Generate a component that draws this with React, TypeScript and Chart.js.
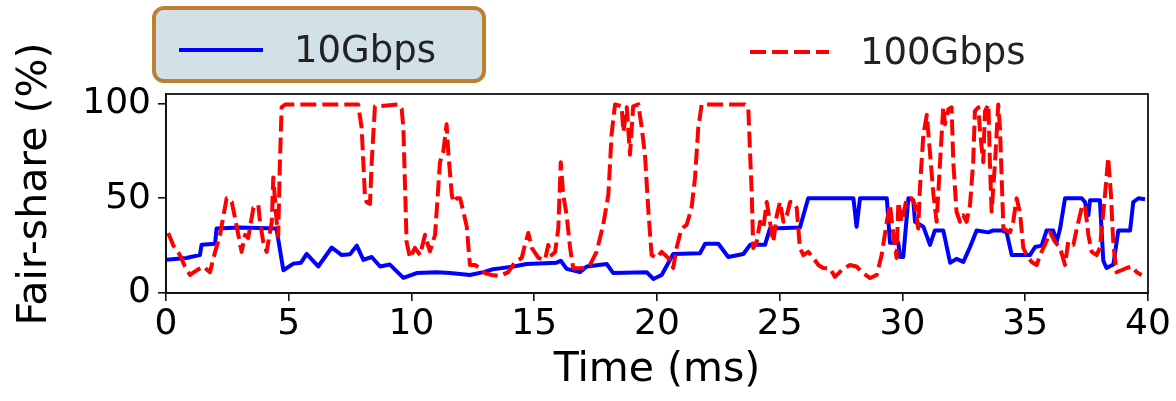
import React, { useEffect, useRef } from "react";
import { Chart, registerables } from "chart.js";

Chart.register(...registerables);

const xTicks = [0, 5, 10, 15, 20, 25, 30, 35, 40];
const yTicks = [0, 50, 100];
const seriesLabels = ["10Gbps", "100Gbps"];
const xTitle = "Time (ms)";
const yTitle = "Fair-share (%)";

const blueTime = [
  0, 0.84, 1.0, 1.38, 1.45, 2.0, 2.06, 3.0, 4.5, 4.78, 5.19, 5.5, 5.73, 6.2, 6.75, 7.16, 7.5, 7.77, 8.04, 8.38,
  8.72, 9.12, 9.67, 10.21, 11.03, 11.57, 12.38, 12.93, 13.3, 13.6, 14.15, 14.69, 15.91, 16.08, 16.32, 16.86, 17.14,
  17.95, 18.22, 19.58, 19.85, 20.19, 20.66, 21.75, 21.96, 22.5, 22.9, 23.52, 23.79, 24.4, 24.6, 25.82, 26.16, 28.0,
  28.13, 28.27, 29.36, 29.49, 29.83, 29.9, 30.03, 30.24, 30.44, 30.51, 30.85, 31.12, 31.32, 31.66, 31.94, 32.2,
  32.48, 32.75, 33.02, 33.5, 33.7, 34.04, 34.24, 34.45, 35.19, 35.4, 35.67, 35.87, 36.14, 36.28, 36.42, 36.62, 37.3,
  37.43, 37.57, 37.64, 38.04, 38.18, 38.31, 38.59, 38.79, 39.27, 39.4, 39.61, 39.88,
];
const blueShare = [
  17.5, 18.5, 19, 20, 25.5, 26, 34, 34.5, 34, 12, 15.5, 16, 20.6, 14, 24, 20, 20.5, 25, 17.5, 19,
  14, 15, 8, 10.5, 11, 10.5, 9.5, 11, 12.5, 13, 14, 15.3, 16, 17, 12.7, 11, 14,
  15.3, 10.5, 11, 7.4, 9.5, 20.6, 21, 26, 26, 19, 20.6, 25.4, 25.4, 34, 34.5, 50, 50,
  35, 50, 50, 26.5, 26.5, 19, 19, 50, 49, 37.6, 35, 25.4, 33, 33, 16, 18,
  16.4, 24.3, 33, 32, 33, 33, 32, 20, 20, 24.3, 25, 33, 33, 27, 34, 50, 50,
  48, 41, 49, 49, 17, 13.2, 15, 33, 33, 48, 50, 49.5,
];

const redTime = [
  0.09, 0.3, 0.57, 0.77, 0.98, 1.25, 1.52, 1.79, 2.0, 2.2, 2.47, 2.68, 2.81, 3.08, 3.22, 3.35, 3.56, 3.76, 3.83,
  3.96, 4.1, 4.31, 4.37, 4.51, 4.57, 4.64, 4.71, 4.85, 7.83, 7.97, 8.1, 8.17, 8.31, 8.38, 8.51, 9.46, 9.6, 9.67,
  9.8, 9.94, 10.14, 10.35, 10.55, 10.75, 10.96, 11.16, 11.3, 11.43, 11.5, 11.64, 11.7, 11.84, 11.98, 12.11, 12.25,
  12.38, 12.59, 12.79, 12.99, 13.27, 13.6, 13.94, 14.22, 14.49, 14.62, 14.76, 14.9, 15.17, 15.44, 15.57, 15.71,
  15.85, 15.98, 16.08, 16.18, 16.32, 16.46, 16.59, 16.93, 17.27, 17.54, 17.81, 18.02, 18.15, 18.29, 18.56, 18.63,
  18.77, 18.9, 19.03, 19.24, 19.38, 19.51, 19.65, 19.78, 19.99, 20.19, 20.46, 20.66, 20.8, 21.0, 21.21, 21.41,
  21.55, 21.68, 21.82, 23.58, 23.72, 23.86, 23.92, 24.06, 24.2, 24.33, 24.47, 24.6, 24.74, 24.88, 25.01, 25.15,
  25.29, 25.42, 25.55, 25.69, 25.82, 25.96, 26.16, 26.37, 26.57, 26.77, 27.05, 27.25, 27.52, 27.86, 28.13, 28.34,
  28.68, 28.95, 29.15, 29.36, 29.49, 29.63, 29.76, 29.83, 29.97, 30.17, 30.37, 30.51, 30.64, 30.71, 30.85, 30.99,
  31.12, 31.26, 31.39, 31.53, 31.66, 31.73, 31.87, 32.0, 32.07, 32.2, 32.34, 32.48, 32.61, 32.75, 32.88, 32.95,
  33.09, 33.16, 33.29, 33.36, 33.5, 33.56, 33.63, 33.77, 33.9, 33.97, 34.11, 34.24, 34.38, 34.51, 34.65, 34.79,
  34.92, 35.06, 35.26, 35.47, 35.6, 35.8, 36.01, 36.21, 36.42, 36.62, 36.75, 36.96, 37.1, 37.3, 37.43, 37.57,
  37.71, 37.91, 38.04, 38.25, 38.38, 38.49, 38.59, 38.72, 38.92, 39.13, 39.33, 39.54, 39.74,
];
const redShare = [
  31.7, 25, 20, 14, 9.5, 12, 14, 11, 21.7, 30.7, 50, 48, 39.7, 21.7, 30.7, 29, 45, 46.5, 37.6,
  27, 21.7, 37.6, 61, 37.6, 30, 69, 98, 99.5, 99.5, 87, 52, 48, 47, 69, 98.4, 99.5, 97, 87,
  27, 18.5, 23.8, 20, 30.7, 22, 30.7, 69, 75, 89, 74, 52, 48, 50, 50, 43, 35,
  14.8, 14.8, 13, 10.5, 9.5, 9, 11, 16.4, 18.5, 25.4, 31.7, 23.8, 18.5, 17.5, 25.4, 20,
  21.7, 34, 69, 52, 41, 23.8, 13, 13, 14.8, 21.7, 36, 52, 83.6, 99.5, 98.5, 85,
  98, 73, 98.5, 99.5, 87, 73, 43, 20, 18.5, 21.7, 18.5, 13.2, 24, 34, 36, 45,
  61, 87, 99.5, 99.5, 97, 52, 23.8, 27, 37.6, 34, 48, 37.6, 27, 41, 48, 37.6,
  41, 48, 48, 45, 23.8, 20, 21.7, 18.5, 14.8, 13.2, 13, 8.5, 12, 14.8, 14, 11,
  7.9, 9.5, 20, 37.6, 46.5, 30.7, 18.5, 48, 37.6, 50, 50, 46.5, 34, 55.6, 83.6, 94,
  74, 52, 37.6, 69, 98, 89, 97, 98, 69, 43, 37.6, 41, 37.6, 46.5, 69, 96,
  98, 85, 69, 96, 99.5, 69, 43, 69, 99.5, 87, 34, 33, 32, 37.6, 50, 42,
  23.8, 20, 16.4, 14.8, 20, 25.4, 32, 27, 23.8, 14.8, 27, 25.4, 34, 45, 46.5, 30.7,
  21.7, 20, 23.8, 52, 71.4, 52, 25.4, 11, 12, 13.2, 14, 11, 9.5,
];

const FONT = "'DejaVu Sans', sans-serif";
const BLUE = "#0000ff";
const RED = "#ff0000";
const DASH = [16, 6];

const framePlugin = {
  id: "frame",
  afterDatasetsDraw(chart: any) {
    const { ctx, chartArea: a } = chart;
    ctx.save();
    ctx.strokeStyle = "#111";
    ctx.lineWidth = 1.8;
    ctx.strokeRect(a.left, a.top, a.right - a.left, a.bottom - a.top);
    ctx.restore();
  },
};

const yTitlePlugin = {
  id: "yTitle",
  afterDraw(chart: any) {
    const { ctx } = chart;
    ctx.save();
    ctx.translate(35, 184);
    ctx.rotate(-Math.PI / 2);
    ctx.font = `41px ${FONT}`;
    ctx.fillStyle = "#000";
    ctx.textAlign = "center";
    ctx.textBaseline = "middle";
    ctx.fillText(yTitle, 0, 0);
    ctx.restore();
  },
};

const legendPlugin = {
  id: "customLegend",
  afterDraw(chart: any) {
    const { ctx } = chart;
    const ds = chart.data.datasets;
    ctx.save();
    const bx = 154, by = 8, bw = 330, bh = 73, r = 10;
    ctx.beginPath();
    ctx.moveTo(bx + r, by);
    ctx.arcTo(bx + bw, by, bx + bw, by + bh, r);
    ctx.arcTo(bx + bw, by + bh, bx, by + bh, r);
    ctx.arcTo(bx, by + bh, bx, by, r);
    ctx.arcTo(bx, by, bx + bw, by, r);
    ctx.closePath();
    ctx.fillStyle = "#d2e1e8";
    ctx.fill();
    ctx.lineWidth = 4;
    ctx.strokeStyle = "#bf7f30";
    ctx.stroke();

    ctx.font = `37px ${FONT}`;
    ctx.textBaseline = "middle";

    const entries = [
      { x1: 179, x2: 263, tx: 294, y: 50 },
      { x1: 750, x2: 829, tx: 860, y: 52 },
    ];
    ds.forEach((d: any, i: number) => {
      const e = entries[i];
      ctx.beginPath();
      ctx.lineWidth = 4;
      ctx.strokeStyle = d.borderColor;
      ctx.setLineDash(d.borderDash || []);
      ctx.moveTo(e.x1, e.y);
      ctx.lineTo(e.x2, e.y);
      ctx.stroke();
      ctx.setLineDash([]);
      ctx.fillStyle = "#222";
      ctx.fillText(d.label, e.tx, e.y + 2);
    });
    ctx.restore();
  },
};

export default function App() {
  const ref = useRef<HTMLCanvasElement | null>(null);

  useEffect(() => {
    if (!ref.current) return;
    const blueData = blueTime.map((t, i) => ({ x: t, y: blueShare[i] }));
    const redData = redTime.map((t, i) => ({ x: t, y: redShare[i] }));
    const chart = new Chart(ref.current, {
      type: "line",
      data: {
        datasets: [
          {
            label: seriesLabels[0],
            data: blueData,
            borderColor: BLUE,
            borderWidth: 4,
            borderJoinStyle: "round",
            pointRadius: 0,
            tension: 0,
            fill: false,
            order: 2,
          },
          {
            label: seriesLabels[1],
            data: redData,
            borderColor: RED,
            borderWidth: 4,
            borderDash: DASH,
            borderJoinStyle: "round",
            pointRadius: 0,
            tension: 0,
            fill: false,
            order: 1,
          },
        ],
      },
      options: {
        responsive: false,
        animation: false,
        devicePixelRatio: 1,
        layout: { padding: { top: 94, right: 28, bottom: 0, left: 0 } },
        plugins: { legend: { display: false }, tooltip: { enabled: false }, title: { display: false } },
        scales: {
          x: {
            type: "linear",
            min: 0,
            max: 40,
            afterBuildTicks: (s: any) => {
              s.ticks = xTicks.map((v) => ({ value: v }));
            },
            afterFit: (s: any) => {
              s.height = 108;
            },
            grid: { display: true, drawOnChartArea: false, drawTicks: true, tickLength: 8, color: "#111", lineWidth: 1.6 },
            border: { display: true, color: "#111", width: 1.8 },
            ticks: { font: { family: FONT, size: 36 }, color: "#000", padding: 2, maxRotation: 0, autoSkip: false },
            title: { display: true, text: xTitle, font: { family: FONT, size: 41 }, color: "#000", padding: { top: 0, bottom: 6 } },
          },
          y: {
            type: "linear",
            min: 0,
            max: 105,
            afterBuildTicks: (s: any) => {
              s.ticks = yTicks.map((v) => ({ value: v }));
            },
            afterFit: (s: any) => {
              s.width = 166;
            },
            grid: { display: true, drawOnChartArea: false, drawTicks: true, tickLength: 8, color: "#111", lineWidth: 1.6 },
            border: { display: true, color: "#111", width: 1.8 },
            ticks: { font: { family: FONT, size: 36 }, color: "#000", padding: 7 },
          },
        },
      },
      plugins: [framePlugin, yTitlePlugin, legendPlugin],
    });
    return () => chart.destroy();
  }, []);

  return (
    <div style={{ position: "absolute", left: 0, top: 0, width: 1176, height: 401, background: "#fff" }}>
      <canvas ref={ref} width={1176} height={401} style={{ display: "block", width: 1176, height: 401 }} />
    </div>
  );
}
